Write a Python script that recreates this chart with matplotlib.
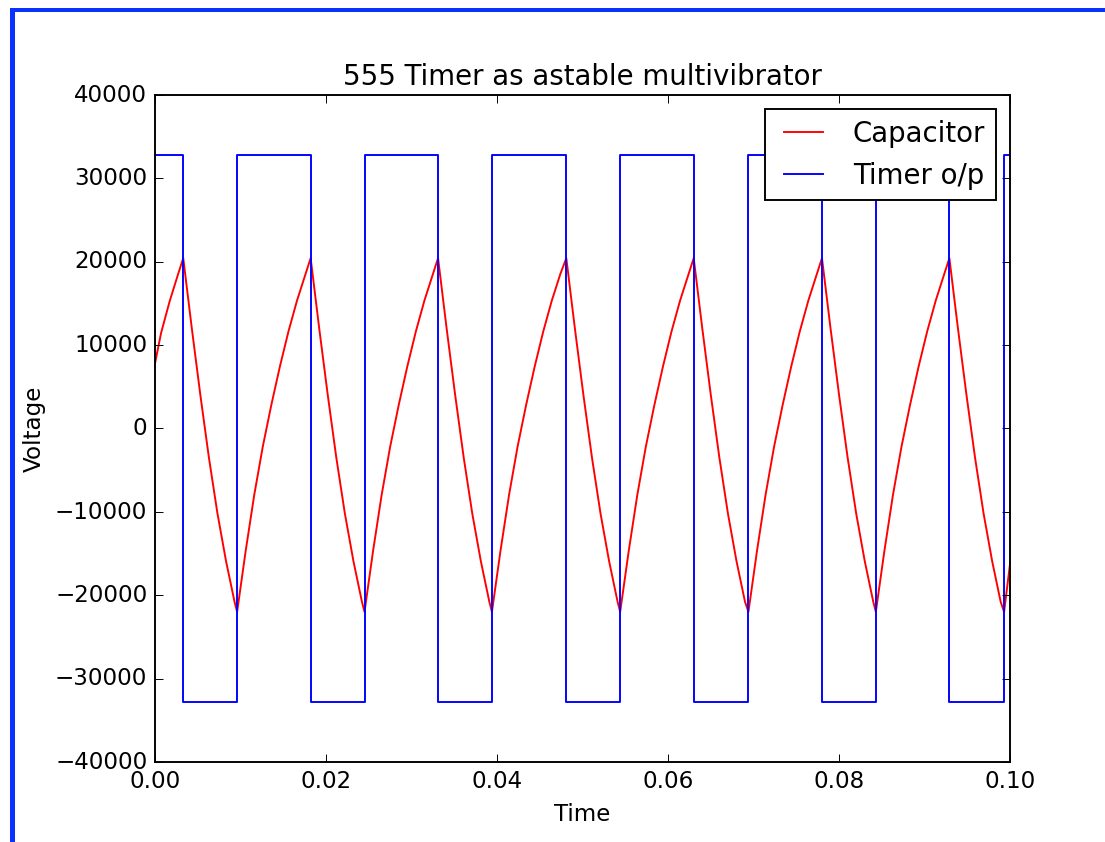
import matplotlib
matplotlib.use('Agg')
import matplotlib.pyplot as plt
from matplotlib.patches import Rectangle

plt.style.use('classic')

# capacitor voltage, one row per discharge / charge stretch
cap_t = [0.0000, 0.0007, 0.0017, 0.0027, 0.0033,
         0.0043, 0.0053, 0.0063, 0.0073, 0.0083, 0.0093, 0.0096,
         0.0106, 0.0116, 0.0126, 0.0136, 0.0146, 0.0156, 0.0166, 0.0176, 0.0182,
         0.0192, 0.0202, 0.0212, 0.0222, 0.0232, 0.0242, 0.0245,
         0.0255, 0.0265, 0.0275, 0.0285, 0.0295, 0.0305, 0.0315, 0.0325, 0.0331,
         0.0341, 0.0351, 0.0361, 0.0371, 0.0381, 0.0391, 0.0394,
         0.0404, 0.0414, 0.0424, 0.0434, 0.0444, 0.0454, 0.0464, 0.0474, 0.0481,
         0.0491, 0.0501, 0.0511, 0.0521, 0.0531, 0.0541, 0.0544,
         0.0554, 0.0564, 0.0574, 0.0584, 0.0594, 0.0604, 0.0614, 0.0624, 0.0630,
         0.0640, 0.0650, 0.0660, 0.0670, 0.0680, 0.0690, 0.0694,
         0.0704, 0.0714, 0.0724, 0.0734, 0.0744, 0.0754, 0.0764, 0.0774, 0.0780,
         0.0790, 0.0800, 0.0810, 0.0820, 0.0830, 0.0840, 0.0843,
         0.0853, 0.0863, 0.0873, 0.0883, 0.0893, 0.0903, 0.0913, 0.0923, 0.0929,
         0.0939, 0.0949, 0.0959, 0.0969, 0.0979, 0.0989, 0.0993,
         0.1000]
cap_v = [7800, 11400, 15200, 18500, 20400,
         12000, 4000, -3500, -10200, -15900, -20800, -22000,
         -14700, -8000, -2200, 2800, 7400, 11600, 15300, 18500, 20400,
         12000, 4000, -3500, -10200, -15900, -20800, -22000,
         -14700, -8000, -2200, 2800, 7400, 11600, 15300, 18500, 20400,
         12000, 4000, -3500, -10200, -15900, -20800, -22000,
         -14700, -8000, -2200, 2800, 7400, 11600, 15300, 18500, 20400,
         12000, 4000, -3500, -10200, -15900, -20800, -22000,
         -14700, -8000, -2200, 2800, 7400, 11600, 15300, 18500, 20400,
         12000, 4000, -3500, -10200, -15900, -20800, -22000,
         -14700, -8000, -2200, 2800, 7400, 11600, 15300, 18500, 20400,
         12000, 4000, -3500, -10200, -15900, -20800, -22000,
         -14700, -8000, -2200, 2800, 7400, 11600, 15300, 18500, 20400,
         12000, 4000, -3500, -10200, -15900, -20800, -22000,
         -16200]

# timer output switching instants and levels
out_t = [0.0000, 0.0033, 0.0096, 0.0182, 0.0245, 0.0331, 0.0394, 0.0481,
         0.0544, 0.0630, 0.0694, 0.0780, 0.0843, 0.0929, 0.0993, 0.1000]
out_v = [32767, -32768, 32767, -32768, 32767, -32768, 32767, -32768,
         32767, -32768, 32767, -32768, 32767, -32768, 32767, 32767]

DPI = 138
fig = plt.figure(figsize=(1105 / DPI, 842.3 / DPI), dpi=DPI, facecolor='white')
ax = fig.add_axes([0.1403, 0.0950, 0.7738, 0.7922])

ax.plot(cap_t, cap_v, 'r', label='Capacitor')
ax.plot(out_t, out_v, 'b', drawstyle='steps-post', label='Timer o/p')

ax.set_xlim(0, 0.1)
ax.set_ylim(-40000, 40000)
ax.set_title('555 Timer as astable multivibrator', fontsize=14.4)
ax.set_xlabel('Time')
ax.set_ylabel('Voltage')
ax.legend(loc='upper right', fontsize=14.4)

# window frame edges
blue = '#0a32ff'
fig.add_artist(Rectangle((10 / 1105, 0), 5 / 1105, 834 / 842,
                         transform=fig.transFigure, color=blue, lw=0))
fig.add_artist(Rectangle((10 / 1105, 829.5 / 842), 1, 4.5 / 842,
                         transform=fig.transFigure, color=blue, lw=0))

fig.savefig('out.png', dpi=DPI, facecolor='white')
